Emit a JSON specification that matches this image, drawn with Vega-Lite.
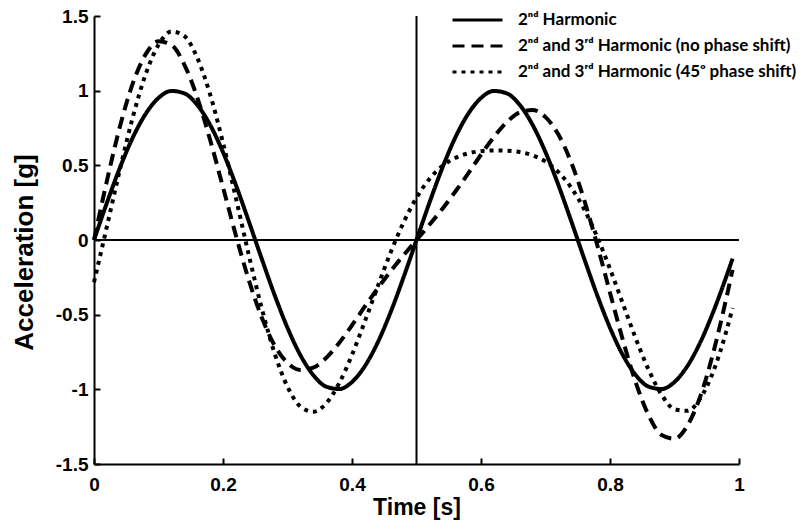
{
  "$schema": "https://vega.github.io/schema/vega-lite/v6.json",
  "width": 645,
  "height": 448,
  "autosize": {"type": "none"},
  "padding": {"left": 94, "top": 16, "right": 61, "bottom": 61},
  "background": "white",
  "config": {
    "view": {"stroke": null},
    "axis": {
      "domainColor": "black", "domainWidth": 2, "tickColor": "black", "tickWidth": 2, "tickSize": -6,
      "grid": false, "labelFont": "Liberation Sans", "labelFontWeight": "bold", "labelFontSize": 19,
      "labelColor": "black", "titleFont": "Liberation Sans", "titleFontWeight": "bold", "titleColor": "black",
      "labelOverlap": false, "labelFlush": false
    }
  },
  "encoding": {
    "x": {"field": "t", "type": "quantitative", "scale": {"domain": [0, 1], "nice": false},
      "axis": {"values": [0, 0.2, 0.4, 0.6, 0.8, 1], "labelExpr": "'' + datum.value", "title": "Time [s]", "titleFontSize": 23, "labelPadding": 17, "titlePadding": 2}},
    "y": {"field": "v", "type": "quantitative", "scale": {"domain": [-1.5, 1.5], "nice": false},
      "axis": {"values": [-1.5, -1, -0.5, 0, 0.5, 1, 1.5], "labelExpr": "'' + datum.value", "title": "Acceleration [g]", "titleFontSize": 26, "labelPadding": 12, "titlePadding": 18, "titleY": 236}}
  },
  "layer": [
    {
      "data": {"values": [{"t": 0, "t2": 1, "v": 0}]},
      "mark": {"type": "rule", "color": "black", "strokeWidth": 2},
      "encoding": {"x2": {"field": "t2"}}
    },
    {
      "data": {"values": [{"t": 0.5, "v": -1.5, "v2": 1.5}]},
      "mark": {"type": "rule", "color": "black", "strokeWidth": 2},
      "encoding": {"y2": {"field": "v2"}}
    },
    {
      "data": {"values": [
        {"t":0,"v":0,"s":"a"},{"t":0.02,"v":0.249,"s":"a"},{"t":0.04,"v":0.482,"s":"a"},{"t":0.06,"v":0.685,"s":"a"},{"t":0.08,"v":0.844,"s":"a"},{"t":0.1,"v":0.951,"s":"a"},{"t":0.12,"v":0.998,"s":"a"},{"t":0.14,"v":0.982,"s":"a"},{"t":0.16,"v":0.905,"s":"a"},{"t":0.18,"v":0.771,"s":"a"},{"t":0.2,"v":0.588,"s":"a"},{"t":0.22,"v":0.368,"s":"a"},{"t":0.24,"v":0.125,"s":"a"},{"t":0.26,"v":-0.125,"s":"a"},{"t":0.28,"v":-0.368,"s":"a"},{"t":0.3,"v":-0.588,"s":"a"},{"t":0.32,"v":-0.771,"s":"a"},{"t":0.34,"v":-0.905,"s":"a"},{"t":0.36,"v":-0.982,"s":"a"},{"t":0.38,"v":-0.998,"s":"a"},{"t":0.4,"v":-0.951,"s":"a"},{"t":0.42,"v":-0.844,"s":"a"},{"t":0.44,"v":-0.685,"s":"a"},{"t":0.46,"v":-0.482,"s":"a"},{"t":0.48,"v":-0.249,"s":"a"},{"t":0.5,"v":0,"s":"a"},{"t":0.52,"v":0.249,"s":"a"},{"t":0.54,"v":0.482,"s":"a"},{"t":0.56,"v":0.685,"s":"a"},{"t":0.58,"v":0.844,"s":"a"},{"t":0.6,"v":0.951,"s":"a"},{"t":0.62,"v":0.998,"s":"a"},{"t":0.64,"v":0.982,"s":"a"},{"t":0.66,"v":0.905,"s":"a"},{"t":0.68,"v":0.771,"s":"a"},{"t":0.7,"v":0.588,"s":"a"},{"t":0.72,"v":0.368,"s":"a"},{"t":0.74,"v":0.125,"s":"a"},{"t":0.76,"v":-0.125,"s":"a"},{"t":0.78,"v":-0.368,"s":"a"},{"t":0.8,"v":-0.588,"s":"a"},{"t":0.82,"v":-0.771,"s":"a"},{"t":0.84,"v":-0.905,"s":"a"},{"t":0.86,"v":-0.982,"s":"a"},{"t":0.88,"v":-0.998,"s":"a"},{"t":0.9,"v":-0.951,"s":"a"},{"t":0.92,"v":-0.844,"s":"a"},{"t":0.94,"v":-0.685,"s":"a"},{"t":0.96,"v":-0.482,"s":"a"},{"t":0.98,"v":-0.249,"s":"a"},{"t":0.99,"v":-0.125,"s":"a"},
        {"t":0,"v":0,"s":"b"},{"t":0.02,"v":0.396,"s":"b"},{"t":0.04,"v":0.756,"s":"b"},{"t":0.06,"v":1.047,"s":"b"},{"t":0.08,"v":1.243,"s":"b"},{"t":0.1,"v":1.331,"s":"b"},{"t":0.12,"v":1.306,"s":"b"},{"t":0.14,"v":1.175,"s":"b"},{"t":0.16,"v":0.955,"s":"b"},{"t":0.18,"v":0.671,"s":"b"},{"t":0.2,"v":0.353,"s":"b"},{"t":0.22,"v":0.03,"s":"b"},{"t":0.24,"v":-0.268,"s":"b"},{"t":0.26,"v":-0.518,"s":"b"},{"t":0.28,"v":-0.706,"s":"b"},{"t":0.3,"v":-0.823,"s":"b"},{"t":0.32,"v":-0.87,"s":"b"},{"t":0.34,"v":-0.855,"s":"b"},{"t":0.36,"v":-0.789,"s":"b"},{"t":0.38,"v":-0.69,"s":"b"},{"t":0.4,"v":-0.571,"s":"b"},{"t":0.42,"v":-0.445,"s":"b"},{"t":0.44,"v":-0.323,"s":"b"},{"t":0.46,"v":-0.208,"s":"b"},{"t":0.48,"v":-0.102,"s":"b"},{"t":0.5,"v":0,"s":"b"},{"t":0.52,"v":0.102,"s":"b"},{"t":0.54,"v":0.208,"s":"b"},{"t":0.56,"v":0.323,"s":"b"},{"t":0.58,"v":0.445,"s":"b"},{"t":0.6,"v":0.571,"s":"b"},{"t":0.62,"v":0.69,"s":"b"},{"t":0.64,"v":0.789,"s":"b"},{"t":0.66,"v":0.855,"s":"b"},{"t":0.68,"v":0.87,"s":"b"},{"t":0.7,"v":0.823,"s":"b"},{"t":0.72,"v":0.706,"s":"b"},{"t":0.74,"v":0.518,"s":"b"},{"t":0.76,"v":0.268,"s":"b"},{"t":0.78,"v":-0.03,"s":"b"},{"t":0.8,"v":-0.353,"s":"b"},{"t":0.82,"v":-0.671,"s":"b"},{"t":0.84,"v":-0.955,"s":"b"},{"t":0.86,"v":-1.175,"s":"b"},{"t":0.88,"v":-1.306,"s":"b"},{"t":0.9,"v":-1.331,"s":"b"},{"t":0.92,"v":-1.243,"s":"b"},{"t":0.94,"v":-1.047,"s":"b"},{"t":0.96,"v":-0.756,"s":"b"},{"t":0.98,"v":-0.396,"s":"b"},{"t":0.99,"v":-0.2,"s":"b"},
        {"t":0,"v":-0.283,"s":"c"},{"t":0.02,"v":0.09,"s":"c"},{"t":0.04,"v":0.469,"s":"c"},{"t":0.06,"v":0.82,"s":"c"},{"t":0.08,"v":1.109,"s":"c"},{"t":0.1,"v":1.307,"s":"c"},{"t":0.12,"v":1.396,"s":"c"},{"t":0.14,"v":1.366,"s":"c"},{"t":0.16,"v":1.221,"s":"c"},{"t":0.18,"v":0.975,"s":"c"},{"t":0.2,"v":0.651,"s":"c"},{"t":0.22,"v":0.281,"s":"c"},{"t":0.24,"v":-0.1,"s":"c"},{"t":0.26,"v":-0.456,"s":"c"},{"t":0.28,"v":-0.758,"s":"c"},{"t":0.3,"v":-0.983,"s":"c"},{"t":0.32,"v":-1.115,"s":"c"},{"t":0.34,"v":-1.15,"s":"c"},{"t":0.36,"v":-1.094,"s":"c"},{"t":0.38,"v":-0.96,"s":"c"},{"t":0.4,"v":-0.769,"s":"c"},{"t":0.42,"v":-0.544,"s":"c"},{"t":0.44,"v":-0.309,"s":"c"},{"t":0.46,"v":-0.082,"s":"c"},{"t":0.48,"v":0.118,"s":"c"},{"t":0.5,"v":0.283,"s":"c"},{"t":0.52,"v":0.408,"s":"c"},{"t":0.54,"v":0.495,"s":"c"},{"t":0.56,"v":0.549,"s":"c"},{"t":0.58,"v":0.58,"s":"c"},{"t":0.6,"v":0.595,"s":"c"},{"t":0.62,"v":0.6,"s":"c"},{"t":0.64,"v":0.598,"s":"c"},{"t":0.66,"v":0.589,"s":"c"},{"t":0.68,"v":0.567,"s":"c"},{"t":0.7,"v":0.525,"s":"c"},{"t":0.72,"v":0.455,"s":"c"},{"t":0.74,"v":0.35,"s":"c"},{"t":0.76,"v":0.206,"s":"c"},{"t":0.78,"v":0.022,"s":"c"},{"t":0.8,"v":-0.193,"s":"c"},{"t":0.82,"v":-0.427,"s":"c"},{"t":0.84,"v":-0.66,"s":"c"},{"t":0.86,"v":-0.87,"s":"c"},{"t":0.88,"v":-1.036,"s":"c"},{"t":0.9,"v":-1.133,"s":"c"},{"t":0.92,"v":-1.144,"s":"c"},{"t":0.94,"v":-1.061,"s":"c"},{"t":0.96,"v":-0.882,"s":"c"},{"t":0.98,"v":-0.616,"s":"c"},{"t":0.99,"v":-0.456,"s":"c"}
      ]},
      "mark": {"type": "line", "color": "black", "strokeWidth": 4, "interpolate": "monotone", "strokeCap": "butt"},
      "encoding": {
        "strokeDash": {
          "field": "s", "type": "nominal",
          "scale": {"domain": ["a", "b", "c"], "range": [[1, 0], [12, 7], [4, 5]]},
          "legend": {
            "orient": "none", "legendX": 357, "legendY": -9, "title": null,
            "symbolType": "stroke", "symbolSize": 2500, "symbolStrokeWidth": 3, "symbolStrokeColor": "black",
            "clipHeight": 26, "rowPadding": 0, "padding": 0, "labelOffset": 14, "symbolOffset": 0,
            "labelFont": "Lato", "labelFontSize": 17, "labelFontWeight": "bold", "labelColor": "black", "labelLimit": 400,
            "labelExpr": "datum.label == 'a' ? '2ⁿᵈ Harmonic' : datum.label == 'b' ? '2ⁿᵈ and 3ʳᵈ Harmonic (no phase shift)' : '2ⁿᵈ and 3ʳᵈ Harmonic (45ᵒ phase shift)'"
          }
        }
      }
    }
  ]
}
